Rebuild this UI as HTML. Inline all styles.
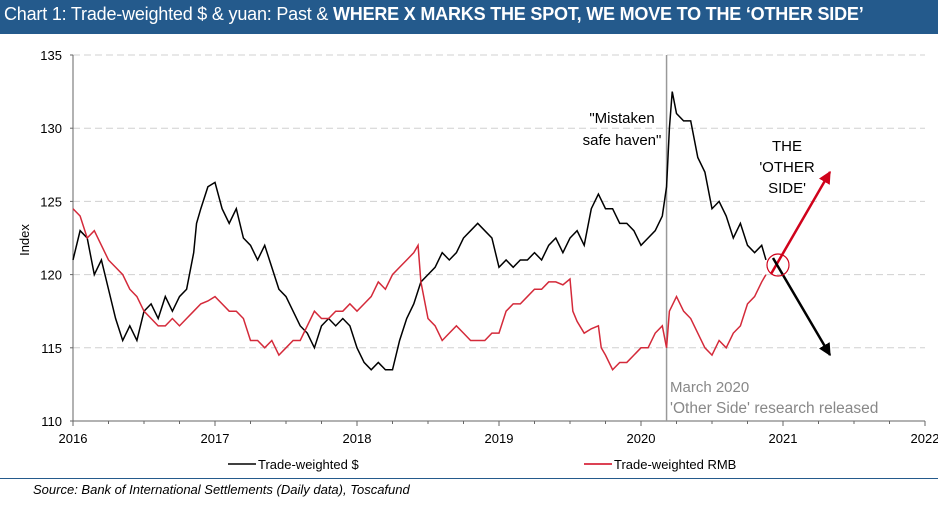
<!DOCTYPE html>
<html><head><meta charset="utf-8"><style>
body{margin:0;width:938px;height:507px;background:#fff;font-family:"Liberation Sans",sans-serif;overflow:hidden;position:relative}
#title{position:absolute;left:0;top:0;width:938px;height:34px;background:#245a8c;color:#fff;font-size:18px;line-height:29px;padding-left:4px;box-sizing:border-box;letter-spacing:-0.2px;white-space:nowrap}
#rule{position:absolute;left:0;top:478px;width:938px;height:1px;background:#245a8c}
#src{position:absolute;left:33px;top:482px;font-size:13px;font-style:italic;color:#000}
svg{position:absolute;left:0;top:0}
</style></head><body>
<div id="title">Chart 1: Trade-weighted $ &amp; yuan: Past &amp; <b>WHERE X MARKS THE SPOT, WE MOVE TO THE ‘OTHER SIDE’</b></div>
<svg id="chart" width="938" height="507"></svg>
<div id="rule"></div>
<div id="src">Source: Bank of International Settlements (Daily data), Toscafund</div>
<script>
const yTicks=[110,115,120,125,130,135];
const xTicks=[2016,2017,2018,2019,2020,2021,2022];
const usdT=[2016.0,2016.05,2016.1,2016.15,2016.2,2016.25,2016.3,2016.35,2016.4,2016.45,2016.5,2016.55,2016.6,2016.65,2016.7,2016.75,2016.8,2016.85,2016.87,2016.9,2016.95,2017.0,2017.05,2017.1,2017.15,2017.2,2017.25,2017.3,2017.35,2017.4,2017.45,2017.5,2017.55,2017.6,2017.65,2017.7,2017.75,2017.8,2017.85,2017.9,2017.95,2018.0,2018.05,2018.1,2018.15,2018.2,2018.25,2018.3,2018.35,2018.4,2018.45,2018.5,2018.55,2018.6,2018.65,2018.7,2018.75,2018.8,2018.85,2018.9,2018.95,2019.0,2019.05,2019.1,2019.15,2019.2,2019.25,2019.3,2019.35,2019.4,2019.45,2019.5,2019.55,2019.6,2019.65,2019.7,2019.75,2019.8,2019.85,2019.9,2019.95,2020.0,2020.05,2020.1,2020.15,2020.18,2020.2,2020.22,2020.25,2020.3,2020.35,2020.4,2020.45,2020.5,2020.55,2020.6,2020.65,2020.7,2020.75,2020.8,2020.85,2020.88];
const usdV=[121,123,122.5,120,121,119,117,115.5,116.5,115.5,117.5,118,117,118.5,117.5,118.5,119,121.5,123.5,124.5,126,126.3,124.5,123.5,124.5,122.5,122,121,122,120.5,119,118.5,117.5,116.5,116,115,116.5,117,116.5,117,116.5,115,114,113.5,114,113.5,113.5,115.5,117,118,119.5,120,120.5,121.5,121,121.5,122.5,123,123.5,123,122.5,120.5,121,120.5,121,121,121.5,121,122,122.5,121.5,122.5,123,122,124.5,125.5,124.5,124.5,123.5,123.5,123,122,122.5,123,124,126,130,132.5,131,130.5,130.5,128,127,124.5,125,124,122.5,123.5,122,121.5,122,121];
const rmbT=[2016.0,2016.05,2016.1,2016.15,2016.2,2016.25,2016.3,2016.35,2016.4,2016.45,2016.5,2016.55,2016.6,2016.65,2016.7,2016.75,2016.8,2016.85,2016.9,2016.95,2017.0,2017.05,2017.1,2017.15,2017.2,2017.25,2017.3,2017.35,2017.4,2017.45,2017.5,2017.55,2017.6,2017.65,2017.7,2017.75,2017.8,2017.85,2017.9,2017.95,2018.0,2018.05,2018.1,2018.15,2018.2,2018.25,2018.3,2018.35,2018.4,2018.43,2018.45,2018.5,2018.55,2018.6,2018.65,2018.7,2018.75,2018.8,2018.85,2018.9,2018.95,2019.0,2019.05,2019.1,2019.15,2019.2,2019.25,2019.3,2019.35,2019.4,2019.45,2019.5,2019.52,2019.55,2019.6,2019.65,2019.7,2019.72,2019.75,2019.8,2019.85,2019.9,2019.95,2020.0,2020.05,2020.1,2020.15,2020.18,2020.2,2020.25,2020.3,2020.35,2020.4,2020.45,2020.5,2020.55,2020.6,2020.65,2020.7,2020.75,2020.8,2020.85,2020.88];
const rmbV=[124.5,124,122.5,123,122,121,120.5,120,119,118.5,117.5,117,116.5,116.5,117,116.5,117,117.5,118,118.2,118.5,118,117.5,117.5,117,115.5,115.5,115,115.5,114.5,115,115.5,115.5,116.5,117.5,117,117,117.5,117.5,118,117.5,118,118.5,119.5,119,120,120.5,121,121.5,122,119.5,117,116.5,115.5,116,116.5,116,115.5,115.5,115.5,116,116,117.5,118,118,118.5,119,119,119.5,119.5,119.3,119.7,117.5,116.8,116,116.3,116.5,115,114.5,113.5,114,114,114.5,115,115,116,116.5,115,117.5,118.5,117.5,117,116,115,114.5,115.5,115,116,116.5,118,118.5,119.5,120];
const svg=document.getElementById('chart');const NS='http://www.w3.org/2000/svg';
const X0=73,X1=925,Y0=421,Y1=55;
const xs=t=>X0+(t-2016)/6*(X1-X0);
const ys=v=>Y0-(v-110)/25*(Y0-Y1);
function mk(tag,attrs,parent){const e=document.createElementNS(NS,tag);for(const k in attrs)e.setAttribute(k,attrs[k]);(parent||svg).appendChild(e);return e;}
yTicks.forEach(v=>{
 if(v>110){const g=mk('line',{x1:X0,x2:X1,y1:ys(v),y2:ys(v),stroke:'#d0d0d0','stroke-dasharray':'7,4'});
 
 }
 const t=mk('text',{x:62,y:ys(v)+5,'text-anchor':'end','font-size':'13'});t.textContent=v;
 
 
 mk('line',{x1:X0-3,x2:X0,y1:ys(v),y2:ys(v),stroke:'#666'});
});
mk('line',{x1:X0,x2:X0,y1:Y1,y2:Y0,stroke:'#666'});
mk('line',{x1:X0,x2:X1,y1:Y0,y2:Y0,stroke:'#666'});
for(let m=0;m<=24;m++){const t=2016+m/4;mk('line',{x1:xs(t),x2:xs(t),y1:Y0,y2:Y0+(m%4?3:5),stroke:'#666'});}
xTicks.forEach(v=>{const t=mk('text',{x:xs(v),y:Y0+22,'text-anchor':'middle','font-size':'13'});t.textContent=v;
 
 });
const yl=mk('text',{x:0,y:0,transform:'translate(29,240) rotate(-90)','text-anchor':'middle','font-size':'13'});yl.textContent='Index';


const vl=mk('line',{x1:xs(2020.18),x2:xs(2020.18),y1:Y1,y2:Y0,stroke:'#999','stroke-width':'1.5'});


function series(T,V,col,name){const p=mk('polyline',{points:T.map((t,i)=>xs(t)+','+ys(V[i])).join(' '),fill:'none',stroke:col,'stroke-width':'1.5'});
 
 }
series(usdT,usdV,'#000','trade-weighted-usd-line');
series(rmbT,rmbV,'#d42a3a','trade-weighted-rmb-line');
mk('defs',{}).innerHTML='<marker id="ar" viewBox="0 0 10 10" refX="9" refY="5" markerWidth="5" markerHeight="5" orient="auto"><path d="M0,0L10,5L0,10z" fill="#d0021b"/></marker><marker id="ab" viewBox="0 0 10 10" refX="9" refY="5" markerWidth="5" markerHeight="5" orient="auto"><path d="M0,0L10,5L0,10z" fill="#000"/></marker>';
const ra=mk('line',{x1:771,y1:274,x2:830,y2:172,stroke:'#d0021b','stroke-width':'2.5','marker-end':'url(#ar)'});


const ba=mk('line',{x1:773,y1:258,x2:830,y2:355,stroke:'#000','stroke-width':'2.5','marker-end':'url(#ab)'});


const ci=mk('circle',{cx:778,cy:265,r:11,fill:'none',stroke:'#d0021b','stroke-width':'1.2'});


function txt(s,x,y,anchor,col,name,fs){const t=mk('text',{x:x,y:y,'text-anchor':anchor,'font-size':fs||'15',fill:col});t.textContent=s;
 
 }
txt('"Mistaken',622,123,'middle','#000','annotation-mistaken');
txt('safe haven"',622,145,'middle','#000','annotation-safe-haven');
txt('THE',787,151,'middle','#000','annotation-the');
txt("'OTHER",787,172,'middle','#000','annotation-other');
txt("SIDE'",787,193,'middle','#000','annotation-side');
txt('March 2020',670,392,'start','#888','annotation-march-2020','15');
txt("'Other Side' research released",670,413,'start','#888','annotation-research-released','15.5');
mk('line',{x1:228,x2:256,y1:464,y2:464,stroke:'#000','stroke-width':'1.5'});
txt('Trade-weighted $',258,469,'start','#000','legend-usd','13');
mk('line',{x1:584,x2:612,y1:464,y2:464,stroke:'#d0021b','stroke-width':'1.5'});
txt('Trade-weighted RMB',614,469,'start','#000','legend-rmb','13');
</script>
</body></html>
